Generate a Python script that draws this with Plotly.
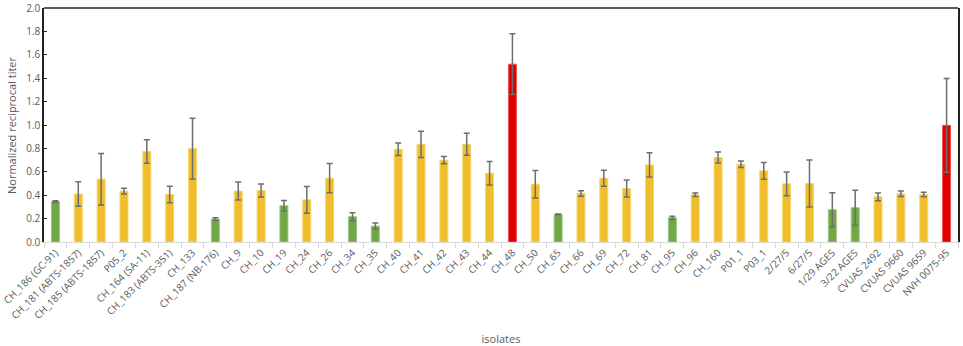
import plotly.graph_objects as go

isolates = ["CH_186 (GC-91)", "CH_181 (ABTS-1857)", "CH_185 (ABTS-1857)", "P05_2",
            "CH_164 (SA-11)", "CH_183 (ABTS-351)", "CH_133", "CH_187 (NB-176)",
            "CH_9", "CH_10", "CH_19", "CH_24", "CH_26", "CH_34", "CH_35", "CH_40",
            "CH_41", "CH_42", "CH_43", "CH_44", "CH_48", "CH_50", "CH_65", "CH_66",
            "CH_69", "CH_72", "CH_81", "CH_95", "CH_96", "CH_160", "P01_1", "P03_1",
            "2/27/5", "6/27/5", "1/29 AGES", "3/22 AGES", "CVUAS 2492", "CVUAS 9660",
            "CVUAS 9659", "NVH 0075-95"]

titer = [0.345, 0.41, 0.537, 0.435, 0.773, 0.406, 0.798, 0.196,
         0.435, 0.44, 0.31, 0.36, 0.545, 0.216, 0.136, 0.793,
         0.835, 0.699, 0.835, 0.588, 1.52, 0.494, 0.236, 0.415,
         0.545, 0.457, 0.659, 0.207, 0.403, 0.722, 0.665, 0.608,
         0.497, 0.5, 0.276, 0.293, 0.386, 0.412, 0.406, 0.997]

error = [0.008, 0.105, 0.22, 0.025, 0.1, 0.07, 0.26, 0.012,
         0.077, 0.055, 0.045, 0.115, 0.125, 0.035, 0.027, 0.053,
         0.112, 0.031, 0.094, 0.1, 0.26, 0.117, 0.004, 0.024,
         0.068, 0.072, 0.104, 0.014, 0.015, 0.047, 0.028, 0.071,
         0.102, 0.2, 0.146, 0.15, 0.033, 0.024, 0.02, 0.40]

group = ["g", "y", "y", "y", "y", "y", "y", "g",
         "y", "y", "g", "y", "y", "g", "g", "y",
         "y", "y", "y", "y", "r", "y", "g", "y",
         "y", "y", "y", "g", "y", "y", "y", "y",
         "y", "y", "g", "g", "y", "y", "y", "r"]

palette = {"y": "#F0BE2A", "g": "#70A845", "r": "#E00000"}
edge = {"y": "#F6D46E", "g": "#9CC47E", "r": "#EE5555"}

fig = go.Figure()
fig.add_trace(go.Bar(
    x=isolates, y=titer,
    marker=dict(color=[palette[g] for g in group],
                line=dict(color=[edge[g] for g in group], width=1)),
    error_y=dict(type="data", array=error, visible=True,
                 color="#6E6E6E", thickness=1.5, width=3),
    showlegend=False,
))

fig.update_layout(
    width=963, height=346,
    margin=dict(l=44, r=5, t=8, b=104),
    paper_bgcolor="white", plot_bgcolor="white",
    bargap=0.65,
    font=dict(family="Open Sans, Liberation Sans, sans-serif", color="#595959", size=10),
    xaxis=dict(
        title=dict(text="isolates", font=dict(size=11, color="#595959"), standoff=14),
        automargin=False,
        tickangle=-45, tickfont=dict(size=10, color="#595959"),
        showline=True, linecolor="#D9D9D9", linewidth=1,
        ticks="outside", tickson="boundaries", ticklen=5, tickcolor="#D9D9D9",
        showgrid=False,
    ),
    yaxis=dict(
        automargin=False,
        range=[0, 2.0], dtick=0.2, tickformat=".1f",
        tickfont=dict(size=10, color="#595959"),
        showline=True, linecolor="#222222", linewidth=1.5, mirror=True,
        ticks="inside", ticklen=3, tickcolor="#222222",
        showgrid=False, zeroline=False,
    ),
    annotations=[dict(text="Normalized reciprocal titer", textangle=-90,
                      xref="paper", yref="paper", x=-33 / 914, y=0.5,
                      xanchor="center", yanchor="middle", showarrow=False,
                      font=dict(size=11, color="#595959"))],
    shapes=[dict(type="line", xref="paper", yref="paper", x0=0, x1=1, y0=1, y1=1,
                 line=dict(color="#222222", width=1.5))],
)

fig.write_html("out.html", config={"displayModeBar": False},
               post_script="document.body.style.margin='0';")
